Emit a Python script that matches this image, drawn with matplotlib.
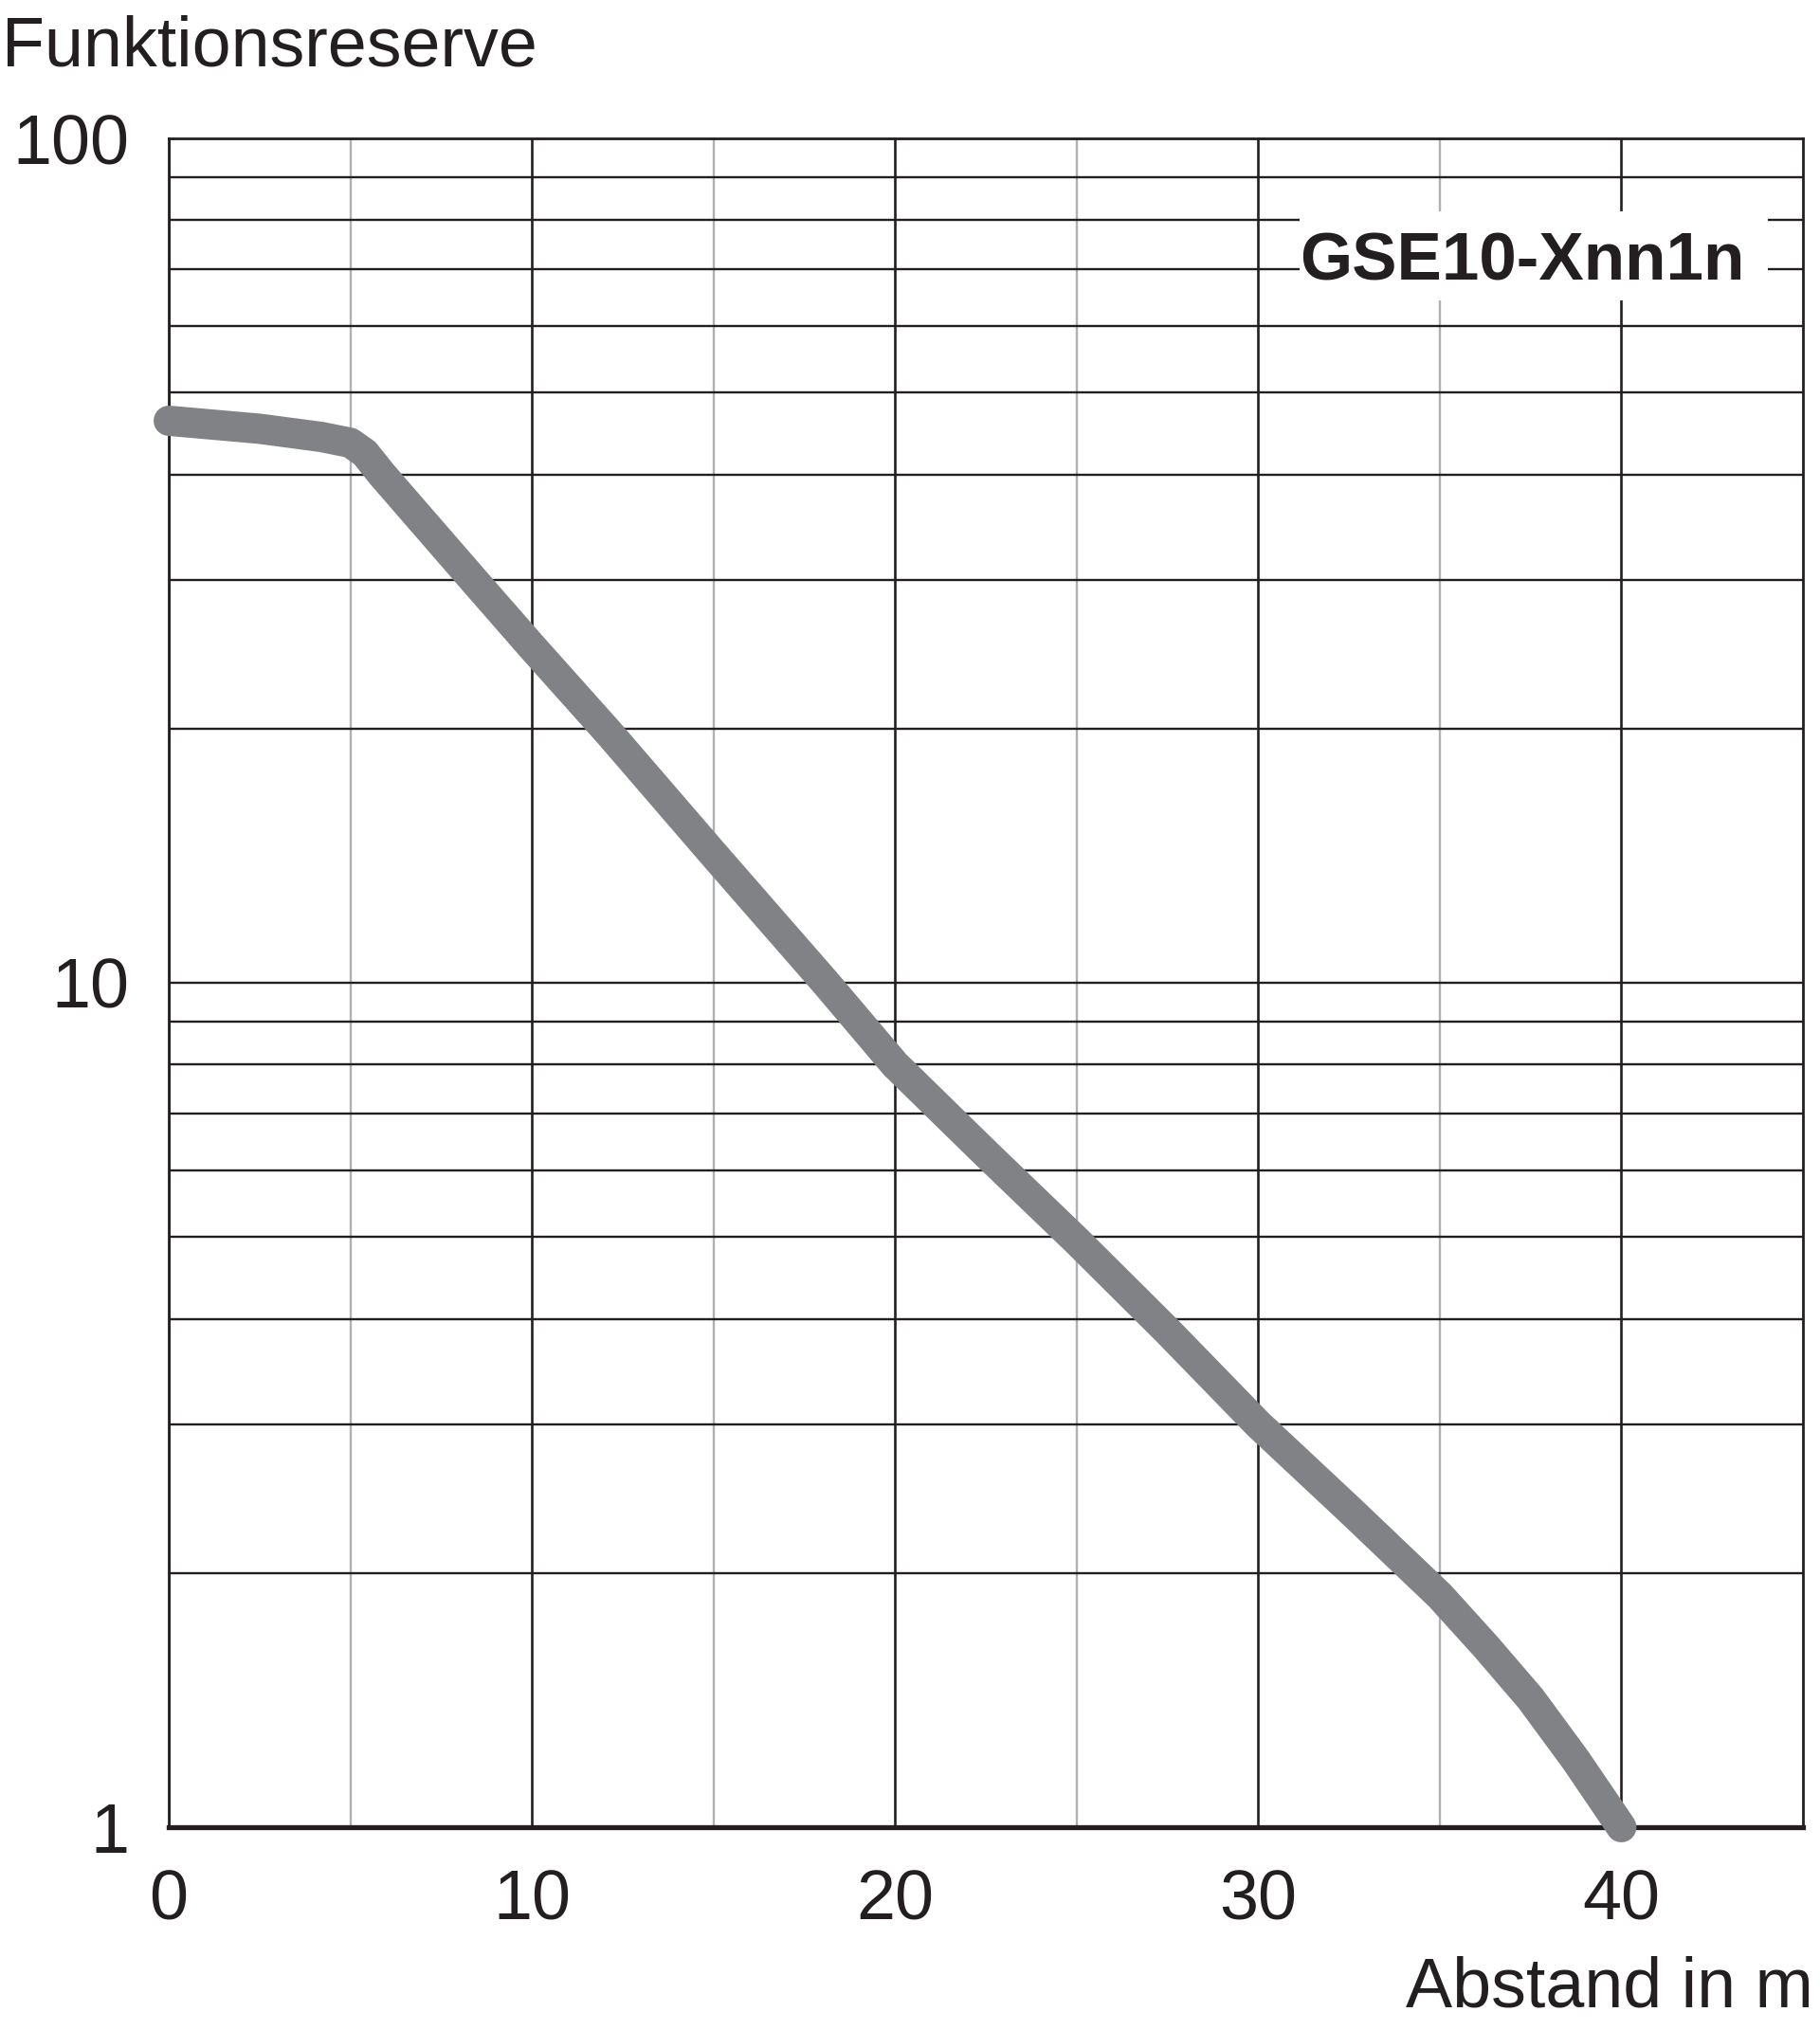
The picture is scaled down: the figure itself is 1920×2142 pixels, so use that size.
import matplotlib
matplotlib.use("Agg")
import matplotlib.pyplot as plt
from matplotlib.ticker import FixedLocator, NullFormatter, FixedFormatter
from matplotlib.patches import Rectangle
from matplotlib import font_manager as fm

# ---- data ----
distance_m = [0, 2.5, 4.2, 5.0, 5.4, 5.87, 8.45, 10, 12.15, 15, 18.09, 20,
              22.5, 25, 27.5, 30, 32.5, 35, 36.25, 37.5, 38.75, 40]
reserve = [46.3, 45.3, 44.3, 43.6, 42.4, 40.0, 29.8, 25.0, 19.7, 14.2, 10.0, 8.0,
           6.28, 4.95, 3.87, 3.0, 2.38, 1.88, 1.64, 1.42, 1.2, 1.0]

x_major = [0, 10, 20, 30, 40]
x_minor = [5, 15, 25, 35]
y_major = [1, 10, 100]
y_minor = [2, 3, 4, 5, 6, 7, 8, 9, 20, 30, 40, 50, 60, 70, 80, 90]
y_labels = ["1", "10", "100"]
x_labels = ["0", "10", "20", "30", "40"]
series_label = "GSE10-Xnn1n"
ylabel = "Funktionsreserve"
xlabel = "Abstand in m"

W, H, DPI = 1920, 2142, 100
fig = plt.figure(figsize=(W / DPI, H / DPI), dpi=DPI)
fig.patch.set_facecolor("white")

L, R, T, B = 178, 1902, 146, 1928
ax = fig.add_axes([L / W, 1 - B / H, (R - L) / W, (B - T) / H])
ax.set_yscale("log")
ax.set_xlim(0, 45)
ax.set_ylim(1, 100)

font = "Liberation Sans"
fs = 53
ink = "#231f20"

ax.xaxis.set_major_locator(FixedLocator(x_major))
ax.xaxis.set_major_formatter(FixedFormatter(x_labels))
ax.xaxis.set_minor_locator(FixedLocator(x_minor))
ax.xaxis.set_minor_formatter(NullFormatter())
ax.yaxis.set_major_locator(FixedLocator(y_major))
ax.yaxis.set_major_formatter(FixedFormatter(y_labels))
ax.yaxis.set_minor_locator(FixedLocator(y_minor))
ax.yaxis.set_minor_formatter(NullFormatter())

ax.tick_params(axis="both", which="both", length=0)
ax.tick_params(axis="x", which="major", pad=31, labelsize=fs, labelcolor=ink)
ax.tick_params(axis="y", which="major", pad=30, labelsize=fs, labelcolor=ink)
for lab in ax.get_xticklabels() + ax.get_yticklabels():
    lab.set_fontfamily(font)

ax.grid(True, axis="y", which="both", color=ink, linewidth=1.7)
ax.grid(True, axis="x", which="major", color=ink, linewidth=1.9)
ax.grid(True, axis="x", which="minor", color="#aeb0b3", linewidth=1.7)
ax.set_axisbelow(True)

for side in ["left", "right", "top"]:
    ax.spines[side].set_color(ink)
    ax.spines[side].set_linewidth(2.0)
ax.spines["bottom"].set_color(ink)
ax.spines["bottom"].set_linewidth(3.8)

ax.plot(distance_m, reserve, color="#808285", linewidth=23,
        solid_capstyle="round", solid_joinstyle="round", zorder=3,
        clip_on=False)

# label box
bx0, bx1, by0, by1 = 1371, 1865, 223, 317
ax.add_patch(Rectangle(((bx0 - L) / (R - L), 1 - (by1 - T) / (B - T)),
                       (bx1 - bx0) / (R - L), (by1 - by0) / (B - T),
                       transform=ax.transAxes, facecolor="white",
                       edgecolor="none", zorder=2.5))

names = {f.name for f in fm.fontManager.ttflist}
if "Liberation Sans Narrow" in names:
    lab_family = ["Liberation Sans Narrow", "Liberation Sans"]
else:
    lab_family = ["Liberation Sans"]
lab = ax.text((1606 - L) / (R - L), 1 - (277 - T) / (B - T), series_label,
              transform=ax.transAxes, ha="center", va="center",
              fontsize=63, fontweight="bold", family=lab_family,
              color=ink, zorder=4)
fig.canvas.draw()
wpx = lab.get_window_extent(fig.canvas.get_renderer()).width
target = 470.0
if wpx > target:
    lab.set_fontsize(63 * target / wpx)

fig.text(2 / W, 1 - 70 / H, ylabel, ha="left", va="baseline",
         fontsize=fs, family=font, color=ink)
fig.text(1913 / W, 1 - 2118 / H, xlabel, ha="right", va="baseline",
         fontsize=fs, family=font, color=ink)

fig.savefig("out.png", dpi=DPI, facecolor="white")
